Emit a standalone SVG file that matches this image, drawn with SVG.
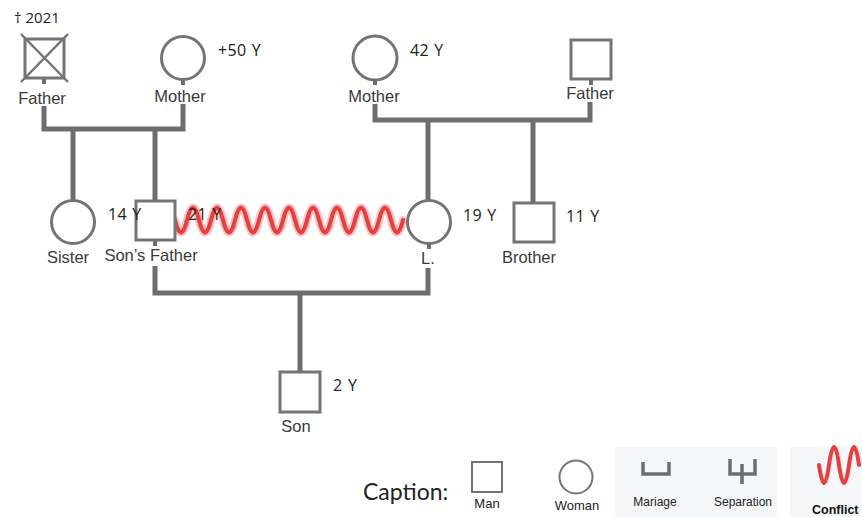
<svg xmlns="http://www.w3.org/2000/svg" width="862" height="517" viewBox="0 0 862 517">
<style>
.ln{fill:none;stroke:#6b6d6e;stroke-width:5;stroke-linecap:butt;stroke-linejoin:miter}
.stub{fill:none;stroke:#6b6d6e;stroke-width:4}
.shp{fill:#fff;stroke:#727475;stroke-width:3}
.lbl{font-family:"Liberation Sans",Arial,sans-serif;font-size:16.5px;fill:#3a3a3a;text-anchor:middle}
.age{font-family:"Open Sans","Liberation Sans",sans-serif;font-size:16px;fill:#222;letter-spacing:0.3px;word-spacing:1px}
.leg{font-family:"Liberation Sans",Arial,sans-serif;font-size:13px;fill:#222;text-anchor:middle}
.wave{fill:none;stroke:#ee3b3b;stroke-linecap:round}
</style>
<rect width="862" height="517" fill="#fff"/>
<g id="connectors">
<path class="ln" d="M44,106 V129 H183 V104"/>
<path class="ln" d="M73,129 V200"/>
<path class="ln" d="M155,129 V201"/>
<path class="ln" d="M375,104 V120 H590 V102"/>
<path class="ln" d="M428,120 V200"/>
<path class="ln" d="M533,120 V203"/>
<path class="ln" d="M155,266 V293 H428 V268"/>
<path class="ln" d="M300,293 V372"/>
<g id="conflict">
<path class="wave" stroke-width="8" opacity="0.3" d="M175,220 q6,25 12,0 t12,0 t12,0 t12,0 t12,0 t12,0 t12,0 t12,0 t12,0 t12,0 t12,0 t12,0 t12,0 t12,0 t12,0 t12,0 t12,0 t12,0 t12,0"/>
<path class="wave" stroke-width="4" d="M175,220 q6,25 12,0 t12,0 t12,0 t12,0 t12,0 t12,0 t12,0 t12,0 t12,0 t12,0 t12,0 t12,0 t12,0 t12,0 t12,0 t12,0 t12,0 t12,0 t12,0"/>
</g>
</g>
<g id="father-left">
<rect class="shp" x="25" y="39" width="39" height="39"/>
<path d="M21,34 L68,82 M68,34 L21,82" stroke="#727475" stroke-width="2.5"/>
<line class="stub" x1="44" y1="79" x2="44" y2="84"/>
<text x="42" y="104" class="lbl">Father</text>
<text x="14" y="23" font-family="Open Sans,Liberation Sans,sans-serif" font-size="15" fill="#222">† 2021</text>
</g>
<g id="mother-left">
<circle class="shp" cx="183" cy="58" r="21.5"/>
<line class="stub" x1="183" y1="80" x2="183" y2="85"/>
<text x="180" y="102" class="lbl">Mother</text>
<text x="218" y="56" class="age">+50 Y</text>
</g>
<g id="mother-right">
<circle class="shp" cx="375" cy="58" r="22"/>
<line class="stub" x1="375" y1="80" x2="375" y2="85"/>
<text x="374" y="102" class="lbl">Mother</text>
<text x="410" y="56" class="age">42 Y</text>
</g>
<g id="father-right">
<rect class="shp" x="571" y="40" width="40" height="39"/>
<line class="stub" x1="591" y1="80" x2="591" y2="85"/>
<text x="590" y="99" class="lbl">Father</text>
</g>
<g id="sons-father">
<rect class="shp" x="136" y="201" width="39" height="39"/>
<line class="stub" x1="155" y1="241" x2="155" y2="246"/>
<text x="151" y="261" class="lbl">Son’s Father</text>
<text x="188" y="220" class="age">21 Y</text>
</g>
<g id="sister">
<circle class="shp" cx="73" cy="222" r="21.5"/>
<text x="68" y="263" class="lbl">Sister</text>
<text x="108" y="220" class="age">14 Y</text>
</g>
<g id="l">
<circle class="shp" cx="429" cy="222" r="21.5"/>
<line class="stub" x1="429" y1="244" x2="429" y2="249"/>
<text x="428" y="264" class="lbl">L.</text>
<text x="463" y="221" class="age">19 Y</text>
</g>
<g id="brother">
<rect class="shp" x="514" y="203" width="40" height="39"/>
<text x="529" y="263" class="lbl">Brother</text>
<text x="566" y="222" class="age">11 Y</text>
</g>
<g id="son">
<rect class="shp" x="280" y="372" width="40" height="40"/>
<text x="296" y="432" class="lbl">Son</text>
<text x="333" y="391" class="age">2 Y</text>
</g>
<g id="caption">
<rect x="615" y="447" width="162" height="70" fill="#f5f6f8"/>
<rect x="790" y="447" width="72" height="70" fill="#f5f6f8"/>
<text x="363" y="500" font-family="Lato,Open Sans,sans-serif" font-size="23" fill="#222">Caption:</text>
<rect x="472" y="462" width="30" height="30" fill="#fff" stroke="#727475" stroke-width="2"/>
<text x="487" y="508" class="leg">Man</text>
<circle cx="576" cy="477" r="16.5" fill="#fff" stroke="#727475" stroke-width="2"/>
<text x="577" y="510" class="leg">Woman</text>
<path d="M643,462 V474 H669 V462" fill="none" stroke="#6b6d6e" stroke-width="3.5"/>
<text x="655" y="506" font-family="Liberation Sans,Arial,sans-serif" font-size="12" fill="#222" text-anchor="middle">Mariage</text>
<path d="M730,459 V474 H755 V459 M742,464 V484" fill="none" stroke="#6b6d6e" stroke-width="3.5"/>
<text x="743" y="506" font-family="Liberation Sans,Arial,sans-serif" font-size="12" fill="#222" text-anchor="middle">Separation</text>
<path d="M819,465 q5,36 10,0 t10,0 t10,0 t10,0" fill="none" stroke="#ee3b3b" stroke-width="4" stroke-linecap="round" stroke-linejoin="round"/>
<text x="812" y="514" font-family="Liberation Sans,Arial,sans-serif" font-size="12.5" font-weight="bold" fill="#111">Conflict</text>
</g>
</svg>
